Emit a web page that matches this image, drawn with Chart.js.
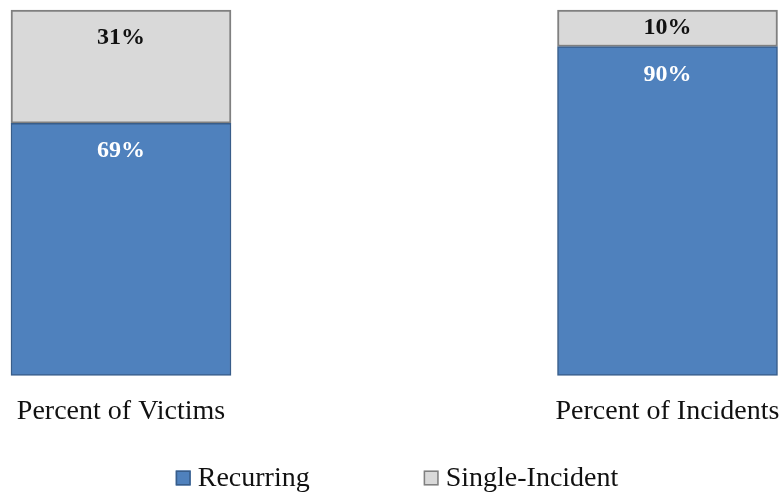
<!DOCTYPE html>
<html>
<head>
<meta charset="utf-8">
<script src="https://cdn.jsdelivr.net/npm/chart.js@4/dist/chart.umd.min.js"></script>
<style>
  html, body { margin: 0; padding: 0; background: #fff; }
  canvas { display: block; }
</style>
</head>
<body>
<canvas id="c" width="784" height="495"></canvas>
<script>
// Share of victims and incidents that were recurring vs. single-incident
const categories = ['Percent of Victims', 'Percent of Incidents'];
const recurring = [69, 90];
const singleIncident = [31, 10];

const SERIF = '"Liberation Serif", "DejaVu Serif", serif';

// Writes each segment's percentage near the top of the segment
const valueLabels = {
  id: 'valueLabels',
  afterDatasetsDraw(chart) {
    const ctx = chart.ctx;
    ctx.save();
    ctx.font = 'bold 24px ' + SERIF;
    ctx.textAlign = 'center';
    ctx.textBaseline = 'middle';
    chart.data.datasets.forEach((ds, di) => {
      const meta = chart.getDatasetMeta(di);
      meta.data.forEach((bar, i) => {
        const top = Math.min(bar.y, bar.base);
        const h = Math.abs(bar.base - bar.y);
        const cy = Math.min(top + 28, top + h / 2);
        ctx.fillStyle = ds.labelColor;
        ctx.fillText(ds.data[i] + '%', bar.x, cy);
      });
    });
    ctx.restore();
  }
};

// Legend row along the bottom edge, built from the datasets
const bottomLegend = {
  id: 'bottomLegend',
  afterDraw(chart) {
    const ctx = chart.ctx;
    const box = 15, boxGap = 7, itemGap = 114;
    ctx.save();
    ctx.font = '28px ' + SERIF;
    ctx.textBaseline = 'middle';
    ctx.textAlign = 'left';
    const items = chart.data.datasets.map(ds => ({
      text: ds.label, fill: ds.backgroundColor, stroke: ds.borderColor,
      w: box + boxGap + ctx.measureText(ds.label).width
    }));
    const total = items.reduce((s, it) => s + it.w, 0) + itemGap * (items.length - 1);
    let x = (chart.width - total) / 2 + 5;
    const cy = chart.height - 17;
    items.forEach(it => {
      ctx.fillStyle = it.fill;
      ctx.fillRect(x, cy - box / 2, box, box);
      ctx.strokeStyle = it.stroke;
      ctx.lineWidth = 1.5;
      ctx.strokeRect(x + 0.75, cy - box / 2 + 0.75, box - 1.5, box - 1.5);
      ctx.fillStyle = '#111';
      ctx.fillText(it.text, x + box + boxGap, cy + 1);
      x += it.w + itemGap;
    });
    ctx.restore();
  }
};

new Chart(document.getElementById('c'), {
  type: 'bar',
  data: {
    labels: categories,
    datasets: [
      {
        label: 'Recurring',
        data: recurring,
        backgroundColor: '#4F81BD',
        borderColor: '#385D8A',
        borderWidth: 1.5,
        borderSkipped: false,
        barThickness: 220,
        clip: false,
        labelColor: '#ffffff'
      },
      {
        label: 'Single-Incident',
        data: singleIncident,
        backgroundColor: '#D9D9D9',
        borderColor: '#808080',
        borderWidth: 2,
        borderSkipped: false,
        barThickness: 220,
        clip: false,
        labelColor: '#111111'
      }
    ]
  },
  options: {
    responsive: false,
    animation: false,
    devicePixelRatio: 1,
    layout: { padding: { left: 121, right: 116.5, top: 10, bottom: 56 } },
    plugins: { legend: { display: false }, tooltip: { enabled: false } },
    scales: {
      x: {
        stacked: true,
        offset: false,
        grid: { display: false },
        border: { display: false },
        afterFit(scale) {
          // the side margins come from the layout padding alone
          scale.paddingLeft = 0;
          scale.paddingRight = 0;
        },
        ticks: {
          color: '#111',
          padding: 11,
          maxRotation: 0,
          autoSkip: false,
          font: { family: SERIF, size: 28 }
        }
      },
      y: {
        stacked: true,
        display: false,
        min: 0,
        max: 100
      }
    }
  },
  plugins: [valueLabels, bottomLegend]
});
</script>
</body>
</html>
